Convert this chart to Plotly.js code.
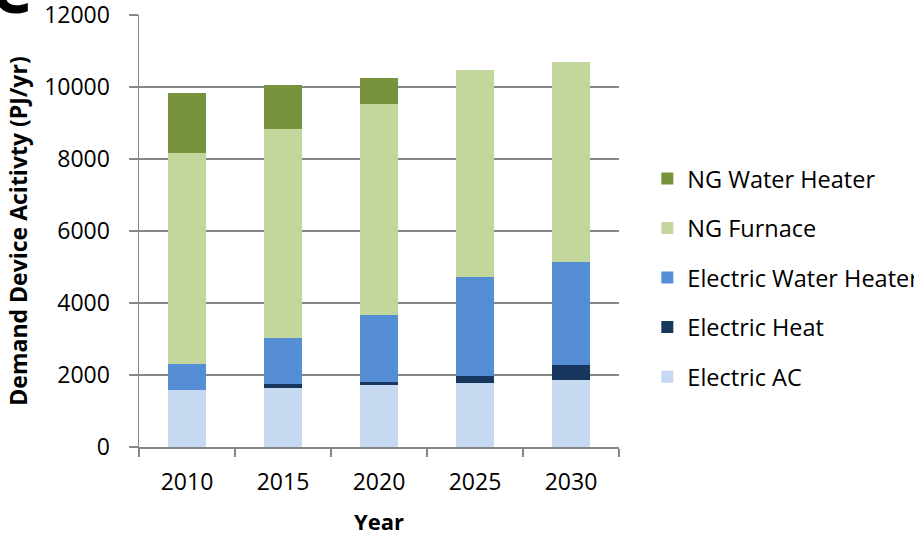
<!DOCTYPE html>
<html>
<head>
<meta charset="utf-8">
<script src="https://cdn.plot.ly/plotly-3.0.1.min.js"></script>
<style>html,body{margin:0;padding:0;background:#fff;}#chart{width:914px;height:536px;}</style>
</head>
<body>
<div id="chart"></div>
<script>
const years = ['2010', '2015', '2020', '2025', '2030'];
const electricAC = [1590, 1640, 1710, 1780, 1850];
const electricHeat = [0, 100, 85, 195, 435];
const electricWaterHeater = [720, 1300, 1880, 2735, 2845];
const ngFurnace = [5850, 5800, 5850, 5765, 5575];
const ngWaterHeater = [1685, 1220, 730, 0, 0];
const yTickValues = [0, 2000, 4000, 6000, 8000, 10000, 12000];

const seriesNames = ['Electric AC', 'Electric Heat', 'Electric Water Heater', 'NG Furnace', 'NG Water Heater'];
const seriesValues = [electricAC, electricHeat, electricWaterHeater, ngFurnace, ngWaterHeater];
const seriesColors = ['#C6D9F1', '#17375E', '#558ED5', '#C3D69B', '#77933C'];

const traces = seriesNames.map((name, i) => ({
  type: 'bar',
  name: name,
  x: years,
  y: seriesValues[i],
  legendgroup: 'g' + i,
  legendrank: 100 - i,
  marker: { color: seriesColors[i] },
  hoverinfo: 'x+y+name'
}));

const font = 'Open Sans, Liberation Sans, sans-serif';

const layout = {
  width: 914,
  height: 536,
  paper_bgcolor: '#ffffff',
  plot_bgcolor: '#ffffff',
  barmode: 'stack',
  bargap: 0.6,
  margin: { l: 139, r: 295, t: 15, b: 89, autoexpand: false },
  font: { family: font, color: '#000000', size: 21 },
  xaxis: {
    type: 'category',
    showline: true,
    linecolor: '#868686',
    linewidth: 1.5,
    ticks: 'outside',
    tickson: 'boundaries',
    ticklen: 8,
    tickcolor: '#868686',
    tickwidth: 1.5,
    ticklabelstandoff: 14,
    tickfont: { size: 23, family: font },
    showgrid: false,
    title: { text: '<b>Year</b>', font: { size: 22, family: font }, standoff: 24 }
  },
  yaxis: {
    range: [0, 12001],
    tickmode: 'array',
    tickvals: yTickValues,
    ticktext: yTickValues.map(String),
    showline: true,
    linecolor: '#868686',
    linewidth: 1.5,
    ticks: 'outside',
    ticklen: 9,
    tickcolor: '#868686',
    tickwidth: 1.5,
    ticklabelstandoff: 14,
    ticklabeloverflow: 'allow',
    tickfont: { size: 23, family: font },
    showgrid: true,
    gridcolor: '#868686',
    gridwidth: 1.5,
    zeroline: false,
    title: { text: '<b>Demand Device Acitivty (PJ/yr)</b>', font: { size: 23, family: font }, standoff: 10 }
  },
  legend: {
    x: 1.059,
    xanchor: 'left',
    y: 0.392,
    yanchor: 'middle',
    traceorder: 'grouped',
    tracegroupgap: 16,
    font: { size: 23.5, family: font },
    bgcolor: 'rgba(0,0,0,0)'
  },
  annotations: [{
    text: '<b>C</b>',
    xref: 'paper', yref: 'paper',
    x: -0.265, y: 0.955,
    xanchor: 'center', yanchor: 'bottom',
    showarrow: false,
    font: { size: 64, family: font, color: '#000000' }
  }]
};

Plotly.newPlot('chart', traces, layout, { displayModeBar: false, staticPlot: true });
</script>
</body>
</html>
